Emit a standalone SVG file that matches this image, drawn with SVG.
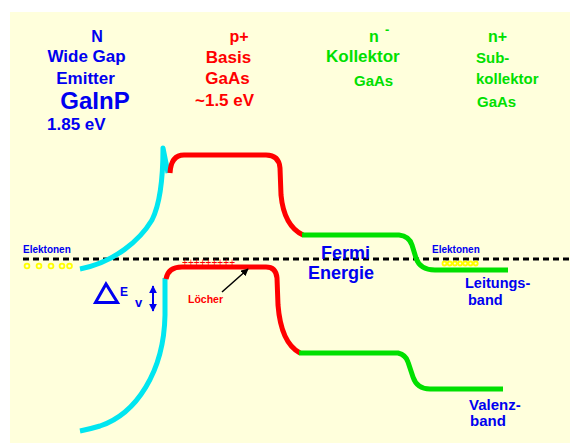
<svg xmlns="http://www.w3.org/2000/svg" width="570" height="443" viewBox="0 0 570 443">
<defs>
<style>
text{font-family:"Liberation Sans",Arial,sans-serif;font-weight:bold}
.b{fill:#0000F0}
.r{fill:#FF0000}
.g{fill:#00E000}
.band{fill:none;stroke-width:5;stroke-linecap:butt;stroke-linejoin:round}
.cy{stroke:#00E6F0}
.rd{stroke:#FF0000}
.gr{stroke:#00E000}
.el{fill:none;stroke:#FFFF00;stroke-width:1.8}
</style>
<marker id="ab" viewBox="0 0 10 10" refX="9" refY="5" markerWidth="4" markerHeight="4" orient="auto-start-reverse"><path d="M0,0 L10,5 L0,10 z" fill="#0000F0"/></marker>
<marker id="ak" viewBox="0 0 10 10" refX="9" refY="5" markerWidth="5" markerHeight="5" orient="auto"><path d="M0,0 L10,5 L0,10 z" fill="#000"/></marker>
</defs>
<rect x="0" y="0" width="570" height="443" fill="#FFFFFF"/>
<rect x="10" y="12" width="560" height="431" fill="#FFFFDC"/>

<g id="emitter-label">
<text class="b" x="97" y="42" font-size="16" text-anchor="middle">N</text>
<text class="b" x="86.5" y="62" font-size="17" text-anchor="middle">Wide Gap</text>
<text class="b" x="85.5" y="84" font-size="17" text-anchor="middle">Emitter</text>
<text class="b" x="95" y="109" font-size="24" text-anchor="middle">GaInP</text>
<text class="b" x="47" y="130" font-size="17">1.85 eV</text>
</g>
<g id="base-label">
<text class="r" x="239" y="42" font-size="16" text-anchor="middle">p+</text>
<text class="r" x="228.5" y="63" font-size="17" text-anchor="middle">Basis</text>
<text class="r" x="227.5" y="84" font-size="17" text-anchor="middle">GaAs</text>
<text class="r" x="195" y="106" font-size="17">~1.5 eV</text>
</g>
<g id="collector-label">
<text class="g" x="369" y="42" font-size="16">n</text>
<text class="g" x="385" y="34" font-size="13">-</text>
<text class="g" x="326" y="62" font-size="17">Kollektor</text>
<text class="g" x="354" y="86" font-size="15">GaAs</text>
</g>
<g id="subcollector-label">
<text class="g" x="488" y="42" font-size="16">n+</text>
<text class="g" x="476" y="63" font-size="15">Sub-</text>
<text class="g" x="476" y="84" font-size="15">kollektor</text>
<text class="g" x="477" y="107" font-size="15">GaAs</text>
</g>

<g id="fermi-level">
<line x1="23" y1="259" x2="570" y2="259" stroke="#000" stroke-width="3" stroke-dasharray="6 4"/>
<text class="b" x="321" y="259" font-size="18">Fermi</text>
<text class="b" x="308" y="279" font-size="18">Energie</text>
</g>

<g id="bands">
<path class="band cy" d="M80,269 C115,262 140,240 152,220 C160,204 163,180 163,148 L168,173"/>
<path class="band rd" d="M170,173 Q171,155 184,155 L266,155 Q279,155 280,168 L281,195 Q284,226 303,235"/>
<path class="band gr" d="M302,235 L399,235 Q409,236 412,245 L416,258 Q420,270 435,270 L508,270"/>
<path class="band cy" d="M165,278 L165,315 C164,372 136,414 100,426 Q90,429 80,431"/>
<path class="band rd" d="M166,279 Q168,267 182,267 L266,267 Q276,267 277,278 L278,305 Q281,343 300,353"/>
<path class="band gr" d="M299,353 L398,353 Q406,355 408,362 L413,377 Q417,389 430,389 L503,389"/>
</g>

<g id="electrons-emitter">
<text class="b" x="23" y="253" font-size="10">Elektonen</text>
<circle class="el" cx="27" cy="266" r="2.4"/>
<circle class="el" cx="39" cy="266" r="2.4"/>
<circle class="el" cx="51" cy="266" r="2.4"/>
<circle class="el" cx="62" cy="266" r="2.4"/>
<circle class="el" cx="69.5" cy="266" r="2.4"/>
</g>
<g id="electrons-subcollector">
<text class="b" x="432" y="253" font-size="10">Elektonen</text>
<circle class="el" cx="444.5" cy="263.5" r="2"/>
<circle class="el" cx="449.7" cy="263.5" r="2"/>
<circle class="el" cx="454.9" cy="263.5" r="2"/>
<circle class="el" cx="460.1" cy="263.5" r="2"/>
<circle class="el" cx="465.3" cy="263.5" r="2"/>
<circle class="el" cx="470.5" cy="263.5" r="2"/>
<circle class="el" cx="475.7" cy="263.5" r="2"/>
</g>

<g id="holes">
<text x="182" y="266" font-size="10" fill="#FF0000" style="font-weight:normal" textLength="53">+++++++++</text>
<text class="r" x="188" y="303" font-size="10.5">Löcher</text>
</g>
<g id="connectors">
<line x1="222" y1="292" x2="248" y2="269" stroke="#000" stroke-width="1.5" marker-end="url(#ak)"/>
<line x1="153" y1="286" x2="153" y2="311" stroke="#0000F0" stroke-width="2" marker-start="url(#ab)" marker-end="url(#ab)"/>
</g>

<g id="delta-ev">
<path d="M95.5,302.5 L106,284 L117.5,302.5 Z" fill="none" stroke="#0000F0" stroke-width="3" stroke-linejoin="miter"/>
<text class="b" x="120" y="296" font-size="12">E</text>
<text class="b" x="135" y="307" font-size="13">v</text>
</g>

<g id="band-labels">
<text class="b" x="465" y="288" font-size="14.5">Leitungs-</text>
<text class="b" x="468" y="305" font-size="14.5">band</text>
<text class="b" x="469" y="410" font-size="15">Valenz-</text>
<text class="b" x="470" y="426" font-size="15">band</text>
</g>
</svg>
